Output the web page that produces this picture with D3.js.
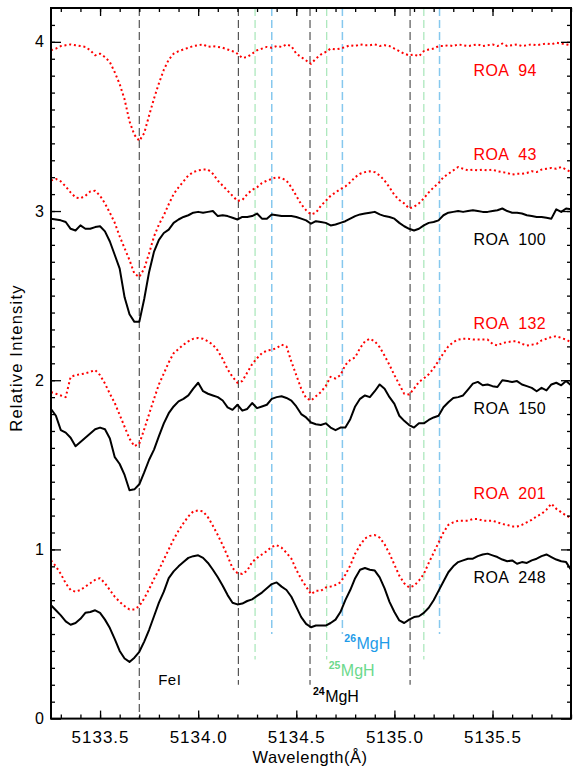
<!DOCTYPE html>
<html><head><meta charset="utf-8">
<script src="https://cdn.jsdelivr.net/npm/d3@7"></script>
<style>body{margin:0;background:#fff}svg{display:block}text{white-space:pre}</style>
</head><body><svg id="c" width="581" height="775"></svg>
<script>
// ---------- data ----------
const wavelength=[
5133.25,5133.275,5133.3,5133.325,5133.35,5133.375,5133.4,5133.425,5133.45,5133.475,
5133.5,5133.525,5133.55,5133.575,5133.6,5133.625,5133.65,5133.675,5133.7,5133.725,
5133.75,5133.775,5133.8,5133.825,5133.85,5133.875,5133.9,5133.925,5133.95,5133.975,
5134.0,5134.025,5134.05,5134.075,5134.1,5134.125,5134.15,5134.175,5134.2,5134.225,
5134.25,5134.275,5134.3,5134.325,5134.35,5134.375,5134.4,5134.425,5134.45,5134.475,
5134.5,5134.525,5134.55,5134.575,5134.6,5134.625,5134.65,5134.675,5134.7,5134.725,
5134.75,5134.775,5134.8,5134.825,5134.85,5134.875,5134.9,5134.925,5134.95,5134.975,
5135.0,5135.025,5135.05,5135.075,5135.1,5135.125,5135.15,5135.175,5135.2,5135.225,
5135.25,5135.275,5135.3,5135.325,5135.35,5135.375,5135.4,5135.425,5135.45,5135.475,
5135.5,5135.525,5135.55,5135.575,5135.6,5135.625,5135.65,5135.675,5135.7,5135.725,
5135.75,5135.775,5135.8,5135.825,5135.85,5135.875,5135.9];

const roa94=[
3.95,3.96,3.975,3.98,3.985,3.98,3.975,3.97,3.95,3.92,
3.93,3.91,3.88,3.82,3.75,3.66,3.53,3.45,3.415,3.46,
3.565,3.665,3.755,3.835,3.895,3.93,3.945,3.955,3.965,3.975,
3.98,3.985,3.97,3.975,3.97,3.965,3.955,3.945,3.93,3.905,
3.91,3.93,3.95,3.96,3.97,3.965,3.975,3.97,3.985,3.975,
3.93,3.91,3.89,3.87,3.90,3.925,3.94,3.96,3.955,3.96,
3.97,3.98,3.975,3.985,3.98,3.98,3.985,3.975,3.98,3.975,
3.96,3.945,3.93,3.92,3.925,3.915,3.945,3.955,3.96,3.975,
3.975,3.98,3.975,3.985,3.98,3.975,3.98,3.985,3.975,3.98,
3.985,3.975,3.99,3.975,3.98,3.985,3.975,3.98,3.985,3.98,
3.985,3.99,3.985,3.995,3.99,3.985,3.98];

const roa43=[
3.18,3.19,3.175,3.145,3.11,3.08,3.075,3.09,3.115,3.12,
3.09,3.045,2.99,2.93,2.85,2.78,2.71,2.63,2.61,2.66,
2.75,2.85,2.92,2.975,3.04,3.10,3.14,3.175,3.21,3.23,
3.24,3.245,3.245,3.22,3.18,3.15,3.12,3.09,3.06,3.065,
3.10,3.125,3.14,3.165,3.18,3.19,3.20,3.195,3.18,3.14,
3.09,3.04,3.005,2.98,2.99,3.03,3.06,3.09,3.11,3.13,
3.145,3.17,3.20,3.22,3.23,3.235,3.23,3.21,3.18,3.14,
3.095,3.065,3.045,3.015,3.025,3.045,3.075,3.11,3.14,3.165,
3.20,3.22,3.24,3.26,3.25,3.24,3.245,3.24,3.245,3.24,
3.245,3.235,3.23,3.225,3.215,3.22,3.22,3.225,3.235,3.23,
3.245,3.25,3.255,3.25,3.26,3.245,3.23];

const roa100=[
2.955,2.95,2.945,2.935,2.895,2.885,2.915,2.895,2.895,2.905,
2.91,2.88,2.82,2.74,2.66,2.49,2.39,2.345,2.345,2.48,
2.64,2.76,2.83,2.87,2.89,2.93,2.95,2.965,2.975,2.99,
2.995,2.99,2.995,3.0,2.97,2.975,2.97,2.96,2.95,2.965,
2.965,2.97,2.985,2.955,2.955,2.98,2.975,2.97,2.97,2.97,
2.965,2.955,2.945,2.925,2.94,2.935,2.93,2.915,2.92,2.93,
2.94,2.955,2.97,2.98,2.985,2.99,2.995,2.98,2.97,2.965,
2.955,2.93,2.91,2.895,2.885,2.895,2.915,2.93,2.935,2.945,
2.975,2.99,2.995,3.0,2.995,3.0,3.005,3.0,2.995,2.995,
3.0,3.005,3.015,3.0,2.99,2.99,2.985,2.975,2.97,2.965,
2.965,2.96,2.955,3.01,2.995,3.015,3.01];

const roa132=[
1.93,1.92,1.91,1.90,2.02,2.03,2.035,2.04,2.05,2.06,
2.03,1.98,1.92,1.865,1.795,1.725,1.655,1.61,1.625,1.71,
1.80,1.89,1.975,2.04,2.105,2.16,2.185,2.21,2.23,2.245,
2.25,2.245,2.23,2.21,2.175,2.125,2.065,2.02,1.985,1.995,
2.045,2.095,2.13,2.16,2.175,2.18,2.19,2.21,2.20,2.11,
2.03,1.95,1.895,1.88,1.905,1.93,1.965,2.02,2.01,2.03,
2.09,2.12,2.135,2.19,2.23,2.245,2.23,2.195,2.145,2.09,
2.03,1.975,1.92,1.915,1.95,1.99,2.01,2.035,2.07,2.115,
2.16,2.20,2.225,2.24,2.245,2.245,2.24,2.24,2.24,2.24,
2.215,2.205,2.22,2.225,2.23,2.23,2.215,2.205,2.21,2.215,
2.235,2.245,2.255,2.26,2.25,2.24,2.225];

const roa150=[
1.83,1.79,1.705,1.69,1.66,1.61,1.635,1.66,1.685,1.71,
1.72,1.71,1.655,1.545,1.505,1.44,1.35,1.355,1.385,1.455,
1.53,1.59,1.67,1.745,1.805,1.845,1.875,1.89,1.91,1.95,
1.985,1.935,1.92,1.91,1.90,1.88,1.84,1.825,1.855,1.82,
1.83,1.865,1.835,1.845,1.855,1.89,1.90,1.905,1.895,1.88,
1.845,1.80,1.78,1.75,1.74,1.735,1.745,1.72,1.705,1.72,
1.72,1.77,1.845,1.89,1.91,1.90,1.935,1.975,1.95,1.90,
1.86,1.79,1.76,1.735,1.72,1.745,1.745,1.765,1.78,1.79,
1.84,1.87,1.895,1.90,1.91,1.945,1.98,1.99,1.97,1.975,
1.965,1.96,2.0,1.995,1.99,1.995,1.975,1.965,1.955,1.935,
1.955,1.94,1.975,1.985,1.97,1.995,1.97];

const roa201=[
0.935,0.90,0.855,0.80,0.76,0.75,0.76,0.78,0.80,0.82,
0.83,0.80,0.76,0.72,0.69,0.665,0.645,0.645,0.665,0.71,
0.765,0.825,0.88,0.94,1.00,1.06,1.11,1.155,1.195,1.225,
1.23,1.225,1.19,1.14,1.085,1.025,0.96,0.89,0.86,0.855,
0.875,0.925,0.95,0.97,0.99,1.015,1.025,1.01,0.98,0.945,
0.88,0.825,0.78,0.735,0.755,0.755,0.775,0.78,0.79,0.805,
0.85,0.905,0.975,1.025,1.065,1.08,1.085,1.07,1.03,0.975,
0.91,0.845,0.80,0.775,0.785,0.815,0.855,0.92,0.98,1.04,
1.10,1.145,1.16,1.17,1.17,1.17,1.18,1.18,1.17,1.17,
1.17,1.16,1.15,1.145,1.135,1.135,1.145,1.16,1.175,1.195,
1.21,1.235,1.27,1.24,1.22,1.20,1.185];

const roa248=[
0.67,0.64,0.61,0.575,0.555,0.565,0.59,0.625,0.63,0.64,
0.625,0.585,0.535,0.47,0.40,0.355,0.335,0.36,0.395,0.455,
0.525,0.605,0.685,0.75,0.83,0.87,0.90,0.925,0.95,0.96,
0.965,0.95,0.92,0.88,0.835,0.785,0.73,0.685,0.675,0.68,
0.695,0.705,0.725,0.745,0.77,0.795,0.805,0.78,0.76,0.72,
0.66,0.60,0.56,0.54,0.55,0.55,0.55,0.565,0.585,0.63,
0.70,0.76,0.83,0.88,0.89,0.88,0.875,0.835,0.77,0.69,
0.63,0.58,0.565,0.585,0.60,0.605,0.625,0.655,0.70,0.755,
0.81,0.865,0.90,0.925,0.935,0.945,0.945,0.96,0.97,0.975,
0.965,0.955,0.94,0.93,0.935,0.915,0.925,0.92,0.935,0.945,
0.96,0.97,0.955,0.94,0.93,0.925,0.88];

const starNames=["ROA  94","ROA  43","ROA  100","ROA  132","ROA  150","ROA  201","ROA  248"];
const starSeries=[roa94,roa43,roa100,roa132,roa150,roa201,roa248];

const xTickValues=[5133.5,5134.0,5134.5,5135.0,5135.5];
const xTickLabels=["5133.5","5134.0","5134.5","5135.0","5135.5"];
const yTickValues=[0,1,2,3,4];
const yTickLabels=["0","1","2","3","4"];

const feLine=[5133.70];
const mg24Lines=[5134.205,5134.57,5135.08];
const mg25Lines=[5134.29,5134.655,5135.15];
const mg26Lines=[5134.375,5134.735,5135.23];

// ---------- drawing ----------
const svg=d3.select("#c");
const L=51,R=571,T=8,B=718.6;
const x=d3.scaleLinear().domain([5133.25,5135.9]).range([L,R]);
const y=d3.scaleLinear().domain([0,4.2]).range([B,T]);
const FONT="'Liberation Sans', Arial, sans-serif";

const red="#ff0000";
const styles=[
 {c:red,dot:true},{c:red,dot:true},{c:"#000",dot:false},
 {c:red,dot:true},{c:"#000",dot:false},{c:red,dot:true},{c:"#000",dot:false}];
const labelAt=[3.8,3.3,2.8,2.3,1.8,1.3,0.8];

// vertical reference lines
function vlines(vals,col,y0,w,dash){
  svg.append("g").selectAll("line").data(vals).join("line")
   .attr("x1",d=>x(d)).attr("x2",d=>x(d))
   .attr("y1",y(4.2)).attr("y2",y(y0))
   .attr("stroke",col).attr("stroke-width",w).attr("stroke-dasharray",dash);
}
vlines(feLine,"#555",0,1.2,"8,4");
vlines(mg24Lines,"#555",0.2,1.2,"8,4");
vlines(mg25Lines,"#a6e6b8",0.35,1.2,"8,4");
vlines(mg26Lines,"#86c8ee",0.5,1.5,"8,4");

// spectra
const line=d3.line().x((d,i)=>x(wavelength[i])).y(d=>y(d));
starSeries.forEach((s,k)=>{
  const st=styles[k];
  svg.append("path").datum(s).attr("d",line).attr("fill","none")
    .attr("stroke",st.c).attr("stroke-width",2)
    .attr("stroke-dasharray",st.dot?"2,2.8":null)
    .attr("stroke-linejoin","round");
  svg.append("text").attr("x",x(5135.403)).attr("y",y(labelAt[k]))
    .attr("fill",st.c).attr("font-family",FONT).attr("font-size",16)
    .attr("letter-spacing",0.4).attr("xml:space","preserve")
    .text(starNames[k]);
});

// axes
function styleAxis(g){g.select(".domain").remove();g.selectAll("line").attr("stroke","#000").attr("stroke-width",1.3);}
const xMinor=d3.range(5133.3,5135.95,0.1).map(v=>+v.toFixed(1));
const yMinor=d3.range(0.1,4.2,0.1).map(v=>+v.toFixed(1));

svg.append("g").attr("transform",`translate(0,${B})`)
  .call(d3.axisBottom(x).tickValues(xTickValues).tickFormat((d,i)=>xTickLabels[i]).tickSize(-8).tickPadding(12))
  .call(styleAxis)
  .call(g=>g.selectAll("text").attr("font-family",FONT).attr("font-size",17).attr("letter-spacing",1).attr("fill","#000"));
svg.append("g").attr("transform",`translate(0,${B})`)
  .call(d3.axisBottom(x).tickValues(xMinor).tickFormat("").tickSize(-4)).call(styleAxis);
svg.append("g").attr("transform",`translate(0,${T})`)
  .call(d3.axisTop(x).tickValues(xTickValues).tickFormat("").tickSize(-8)).call(styleAxis);
svg.append("g").attr("transform",`translate(0,${T})`)
  .call(d3.axisTop(x).tickValues(xMinor).tickFormat("").tickSize(-4)).call(styleAxis);

svg.append("g").attr("transform",`translate(${L},0)`)
  .call(d3.axisLeft(y).tickValues(yTickValues).tickFormat((d,i)=>yTickLabels[i]).tickSize(-10).tickPadding(7))
  .call(styleAxis)
  .call(g=>g.selectAll("text").attr("font-family",FONT).attr("font-size",16).attr("fill","#000"));
svg.append("g").attr("transform",`translate(${L},0)`)
  .call(d3.axisLeft(y).tickValues(yMinor).tickFormat("").tickSize(-4)).call(styleAxis);
svg.append("g").attr("transform",`translate(${R},0)`)
  .call(d3.axisRight(y).tickValues(yTickValues).tickFormat("").tickSize(-10)).call(styleAxis);
svg.append("g").attr("transform",`translate(${R},0)`)
  .call(d3.axisRight(y).tickValues(yMinor).tickFormat("").tickSize(-4)).call(styleAxis);

svg.append("rect").attr("x",L).attr("y",T).attr("width",R-L).attr("height",B-T)
  .attr("fill","none").attr("stroke","#000").attr("stroke-width",2);

// axis titles
svg.append("text").attr("x",310).attr("y",763).attr("text-anchor","middle")
  .attr("font-family",FONT).attr("font-size",16.5).attr("letter-spacing",0.5).text("Wavelength(Å)");
svg.append("text").attr("transform","translate(22,358) rotate(-90)").attr("text-anchor","middle")
  .attr("font-family",FONT).attr("font-size",16.5).attr("letter-spacing",1.2).text("Relative Intensity");

// line identifications
svg.append("text").attr("x",x(5133.796)).attr("y",y(0.2))
  .attr("font-family",FONT).attr("font-size",15).attr("letter-spacing",0.5).attr("fill","#000").text("FeI");
function iso(mass,lam,val,col){
  const t=svg.append("text").attr("x",x(lam)).attr("y",y(val))
    .attr("font-family",FONT).attr("fill",col).attr("font-size",16);
  t.append("tspan").attr("font-size",10.5).attr("font-weight","bold").attr("dy",-7).text(mass);
  t.append("tspan").attr("dy",7).attr("dx",0.5).text("MgH");
}
iso("24",5134.585,0.1,"#000");
iso("25",5134.665,0.25,"#6cd98c");
iso("26",5134.745,0.41,"#1e9be8");
</script></body></html>
